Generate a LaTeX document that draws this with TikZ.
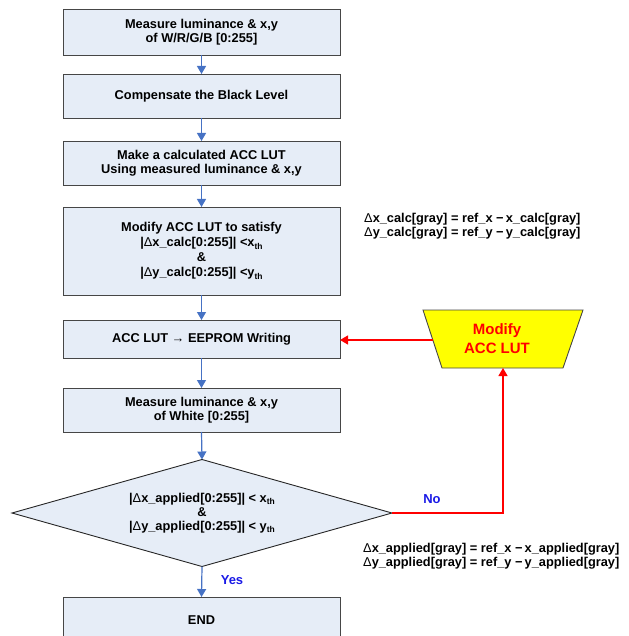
\documentclass[tikz,border=0pt]{standalone}
\usepackage{fontspec}
\setmainfont{Liberation Sans}
\usetikzlibrary{arrows.meta,shapes.geometric}
\definecolor{boxfill}{RGB}{230,237,247}
\definecolor{boxline}{RGB}{70,70,70}
\definecolor{flowblue}{RGB}{70,114,196}
\definecolor{labblue}{RGB}{25,25,230}
\definecolor{modyellow}{RGB}{255,255,0}
\newcommand\thsub{\raisebox{-2.5pt}{\fontsize{8.5}{8.5}\selectfont th}}
\newcommand\dlt{{\mdseries Δ}}
\begin{document}
\begin{tikzpicture}[x=1pt,y=-1pt,
  font=\bfseries\fontsize{12.8}{14}\selectfont,
  stepbox/.style={draw=boxline,fill=boxfill,line width=0.9pt,minimum width=277pt,align=center,inner sep=0pt,outer sep=0pt},
  flow/.style={draw=flowblue,line width=1.2pt,-{Triangle[length=8pt,width=9pt]}},
  redflow/.style={draw=red,line width=1.3pt,-{Triangle[length=8pt,width=9pt]}},
  note/.style={anchor=west,align=left,inner sep=0pt}]
\useasboundingbox (0,0) rectangle (628,636);
\clip (0,0) rectangle (628,636);
\node[stepbox,minimum height=46pt] (b1) at (201.5,32) {Measure luminance \& x,y\\of W/R/G/B [0:255]};
\node[stepbox,minimum height=44pt] (b2) at (201.5,96) {Compensate the Black Level};
\node[stepbox,minimum height=44pt] (b3) at (201.5,163) {Make a calculated ACC LUT\\Using measured luminance \& x,y};
\node[stepbox,minimum height=88pt,font=\bfseries\fontsize{12.8}{15}\selectfont] (b4) at (201.5,251) {Modify ACC LUT to satisfy\\|\dlt x\_calc[0:255]| <x\thsub\\\&\\|\dlt y\_calc[0:255]| <y\thsub};
\node[stepbox,minimum height=38pt] (b5) at (201.5,339) {ACC LUT → EEPROM Writing};
\node[stepbox,minimum height=44pt] (b6) at (201.5,410) {Measure luminance \& x,y\\of White [0:255]};
\node[diamond,aspect=3.55,draw=black!85,fill=boxfill,line width=0.9pt,minimum width=380pt,minimum height=107pt,inner sep=0pt,align=center,outer sep=0pt] (d) at (202,513) {|\dlt x\_applied[0:255]| < x\thsub\\\&\\|\dlt y\_applied[0:255]| < y\thsub};
\node[stepbox,minimum height=46pt] (b7) at (201.5,620) {END};
% modify trapezoid
\coordinate (tl) at (423,310);
\coordinate (tr) at (583,310);
\coordinate (br) at (563,368);
\coordinate (bl) at (442,368);
\draw[draw=boxline,fill=modyellow,line width=0.9pt] (tl) -- (tr) -- (br) -- (bl) -- cycle;
\node[text=red,align=center,font=\bfseries\fontsize{15}{19}\selectfont] (mod) at (497,339) {Modify\\ACC LUT};
\coordinate (modL) at (433,340);
\coordinate (modB) at (503,368);
% flow arrows
\draw[flow] (b1.south) -- (b2.north);
\draw[flow] (b2.south) -- (b3.north);
\draw[flow] (b3.south) -- (b4.north);
\draw[flow] (b4.south) -- (b5.north);
\draw[flow] (b5.south) -- (b6.north);
\draw[flow] (b6.south) -- (d.north);
\draw[flow] (d.south) -- (b7.north);
\draw[redflow] (modL) -- (modL -| b5.east);
\draw[redflow] (d.east) -| (modB);
\node[text=labblue,font=\bfseries\fontsize{13}{14}\selectfont] (no) at (432,499) {No};
\node[text=labblue,font=\bfseries\fontsize{13}{14}\selectfont] (yes) at (232,580) {Yes};
\node[note] (n1) at (364,226.5) {\dlt x\_calc[gray] = ref\_x −\,x\_calc[gray]\\\dlt y\_calc[gray] = ref\_y −\,y\_calc[gray]};
\node[note] (n2) at (363,556.5) {\dlt x\_applied[gray] = ref\_x −\,x\_applied[gray]\\\dlt y\_applied[gray] = ref\_y −\,y\_applied[gray]};
\end{tikzpicture}
\end{document}
